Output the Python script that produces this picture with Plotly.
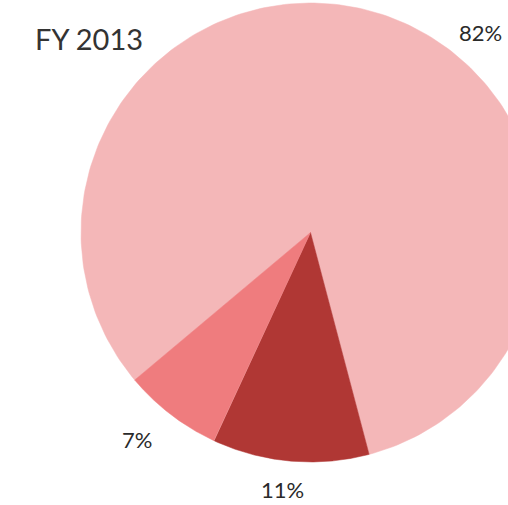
import numpy as np
import plotly.graph_objects as go

# FY 2013 share breakdown
categories = ["Largest share", "Second share", "Third share"]
shares = [82, 11, 7]
colors = ["#f4b7b8", "#b03734", "#ef7c7e"]
title_text = "FY 2013"

# pie geometry in pixel units of the canvas
W, H = 508, 505
cx, cy, r = 310.5, 232.5, 229.5
start_deg = 230.0  # first slice starts here, measured clockwise from 12 o'clock

fig = go.Figure()
total = float(sum(shares))
angle = start_deg
for name, v, c in zip(categories, shares, colors):
    sweep = 360.0 * v / total
    th = np.radians(np.linspace(angle, angle + sweep, 240))
    xs = np.concatenate([[cx], cx + r * np.sin(th), [cx]])
    ys = np.concatenate([[cy], cy - r * np.cos(th), [cy]])
    fig.add_trace(go.Scatter(
        x=xs, y=ys, mode="lines", fill="toself", fillcolor=c,
        line=dict(color=c, width=0.5), name=name, hoverinfo="name",
        showlegend=False,
    ))
    angle += sweep

# percentage labels placed beside their slices
label_pos = [(480, 32), (282, 489), (137, 439)]
for v, (lx, ly) in zip(shares, label_pos):
    fig.add_annotation(
        x=lx, y=ly, xref="x", yref="y", text=f"{v}%", showarrow=False,
        font=dict(family="Lato, sans-serif", size=22, color="#2a2a2a"),
        xanchor="center", yanchor="middle",
    )

fig.add_annotation(
    x=33, y=38, xref="x", yref="y", text=title_text, showarrow=False,
    font=dict(family="Lato, sans-serif", size=29, color="#333333"),
    xanchor="left", yanchor="middle",
)

fig.update_xaxes(range=[0, W], visible=False, fixedrange=True)
fig.update_yaxes(range=[H, 0], visible=False, fixedrange=True)
fig.update_layout(
    width=W, height=H, margin=dict(l=0, r=0, t=0, b=0),
    paper_bgcolor="white", plot_bgcolor="white",
)

fig.write_html("out.html")
